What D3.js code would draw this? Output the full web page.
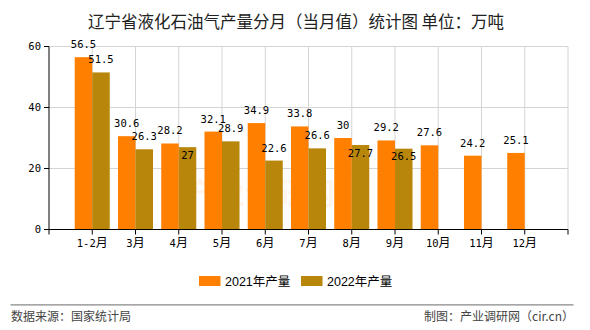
<!DOCTYPE html>
<html><head><meta charset="utf-8">
<script src="https://cdn.jsdelivr.net/npm/d3@7"></script>
<style>
html,body{margin:0;padding:0;background:#fff;}
svg{display:block;}
</style></head>
<body>
<svg id="chart" width="590" height="330"></svg>
<script>
const title = "辽宁省液化石油气产量分月（当月值）统计图 单位：万吨";
const categories = ["1-2月","3月","4月","5月","6月","7月","8月","9月","10月","11月","12月"];
const series2021 = [56.5,30.6,28.2,32.1,34.9,33.8,30,29.2,27.6,24.2,25.1];
const series2022 = [51.5,26.3,27,28.9,22.6,26.6,27.7,26.5];
const seriesNames = ["2021年产量","2022年产量"];
const seriesColors = ["#FF8000","#B8860B"];
const yTicks = [0,20,40,60];
const sourceText = "数据来源：国家统计局";
const makerText = "制图：产业调研网（cir.cn）";

const svg = d3.select("#chart");
const L = 49, R = 568, T = 46.5, B = 229.5;
const cjk = "'Noto Sans CJK SC','Noto Sans',sans-serif";
const mono = "'DejaVu Sans Mono',monospace";

const x = d3.scalePoint().domain(categories).range([L, R]).padding(1);
const y = d3.scaleLinear().domain([0,60]).range([B, T]);
const sub = d3.scaleBand().domain([0,1]).range([-x.step()*0.405, x.step()*0.405]);

// title
svg.append("text").attr("x", 296).attr("y", 27.5).attr("text-anchor","middle")
  .attr("font-family", cjk).attr("font-size", 16.5).attr("fill","#222").text(title);

// watermark
svg.append("text").attr("x", 260).attr("y", 204).attr("text-anchor","middle")
  .attr("font-family", cjk).attr("font-size", 30).attr("font-weight","bold")
  .attr("fill","#FF8000").attr("opacity",0.07).text("产业调研网");

// grid
const gridX = [...categories.map(c => x(c)), R];
svg.append("g").selectAll("line").data(gridX).join("line")
  .attr("x1", d=>d).attr("x2", d=>d).attr("y1", T).attr("y2", B)
  .attr("stroke","#d4d4d4").attr("stroke-width",1);
svg.append("g").selectAll("line").data(yTicks.filter(v=>v>0)).join("line")
  .attr("x1", L).attr("x2", R).attr("y1", d=>y(d)).attr("y2", d=>y(d))
  .attr("stroke","#d4d4d4").attr("stroke-width",1);

// bars
const all = [series2021, series2022];
all.forEach((vals, si) => {
  svg.append("g").selectAll("rect").data(vals).join("rect")
    .attr("x", (d,i) => x(categories[i]) + sub(si))
    .attr("width", sub.bandwidth())
    .attr("y", d => y(d))
    .attr("height", d => B - y(d))
    .attr("fill", seriesColors[si]);
});

// axes
const axisG = svg.append("g");
axisG.append("line").attr("x1", L).attr("x2", R).attr("y1", B).attr("y2", B).attr("stroke","#000");
axisG.append("line").attr("x1", L).attr("x2", L).attr("y1", T).attr("y2", B).attr("stroke","#000");
axisG.selectAll(".xt").data([L, ...gridX]).join("line")
  .attr("x1", d=>d).attr("x2", d=>d).attr("y1", B).attr("y2", B+5).attr("stroke","#000");
axisG.selectAll(".yt").data(yTicks).join("line")
  .attr("x1", L-5).attr("x2", L).attr("y1", d=>y(d)).attr("y2", d=>y(d)).attr("stroke","#000");
axisG.selectAll(".yl").data(yTicks).join("text")
  .attr("x", L-8).attr("y", d=>y(d)).attr("dy","0.35em").attr("text-anchor","end")
  .attr("font-family", mono).attr("font-size", 10.5).attr("fill","#000").text(d=>d);

const xl = axisG.selectAll(".xl").data(categories).join("text")
  .attr("x", d=>x(d)).attr("y", 246.5).attr("text-anchor","middle").attr("fill","#000");
xl.each(function(d){
  const t = d3.select(this);
  const num = d.replace("月","");
  t.append("tspan").attr("font-family", mono).attr("font-size", 10.5).text(num);
  t.append("tspan").attr("font-family", cjk).attr("font-size", 12).text("月");
});

// value labels
const labelG = svg.append("g").attr("font-family", mono).attr("font-size", 10.5).attr("fill","#000");
const above = 9, inside = 11.5, minGap = 9;
series2021.forEach((v, i) => {
  const cx = x(categories[i]);
  const yo = y(v) - above;
  labelG.append("text").attr("x", cx + sub(0) + sub.bandwidth()/2).attr("y", yo)
    .attr("text-anchor","middle").text(v);
  if (i < series2022.length) {
    const g = series2022[i];
    let yg = y(g) - above;
    if (Math.abs(yg - yo) < minGap) yg = y(g) + inside;
    labelG.append("text").attr("x", cx + sub(1) + sub.bandwidth()/2).attr("y", yg)
      .attr("text-anchor","middle").text(g);
  }
});

// legend
const legX = [199, 301];
seriesNames.forEach((n, i) => {
  svg.append("rect").attr("x", legX[i]).attr("y", 276).attr("width", 21.5).attr("height", 10).attr("fill", seriesColors[i]);
  svg.append("text").attr("x", legX[i] + 26).attr("y", 285.5)
    .attr("font-family", "'Liberation Sans','Noto Sans CJK SC',sans-serif").attr("font-size", 12.5).attr("fill","#000").text(n);
});

// footer
svg.append("line").attr("x1", 10.5).attr("x2", 573.5).attr("y1", 304.8).attr("y2", 304.8)
  .attr("stroke","#888").attr("stroke-width",1.3);
svg.append("text").attr("x", 11).attr("y", 321).attr("font-family", cjk).attr("font-size", 12)
  .attr("fill","#444").text(sourceText);
svg.append("text").attr("x", 574).attr("y", 321).attr("text-anchor","end").attr("font-family", cjk).attr("font-size", 12)
  .attr("fill","#444").text(makerText);
</script>
</body></html>
